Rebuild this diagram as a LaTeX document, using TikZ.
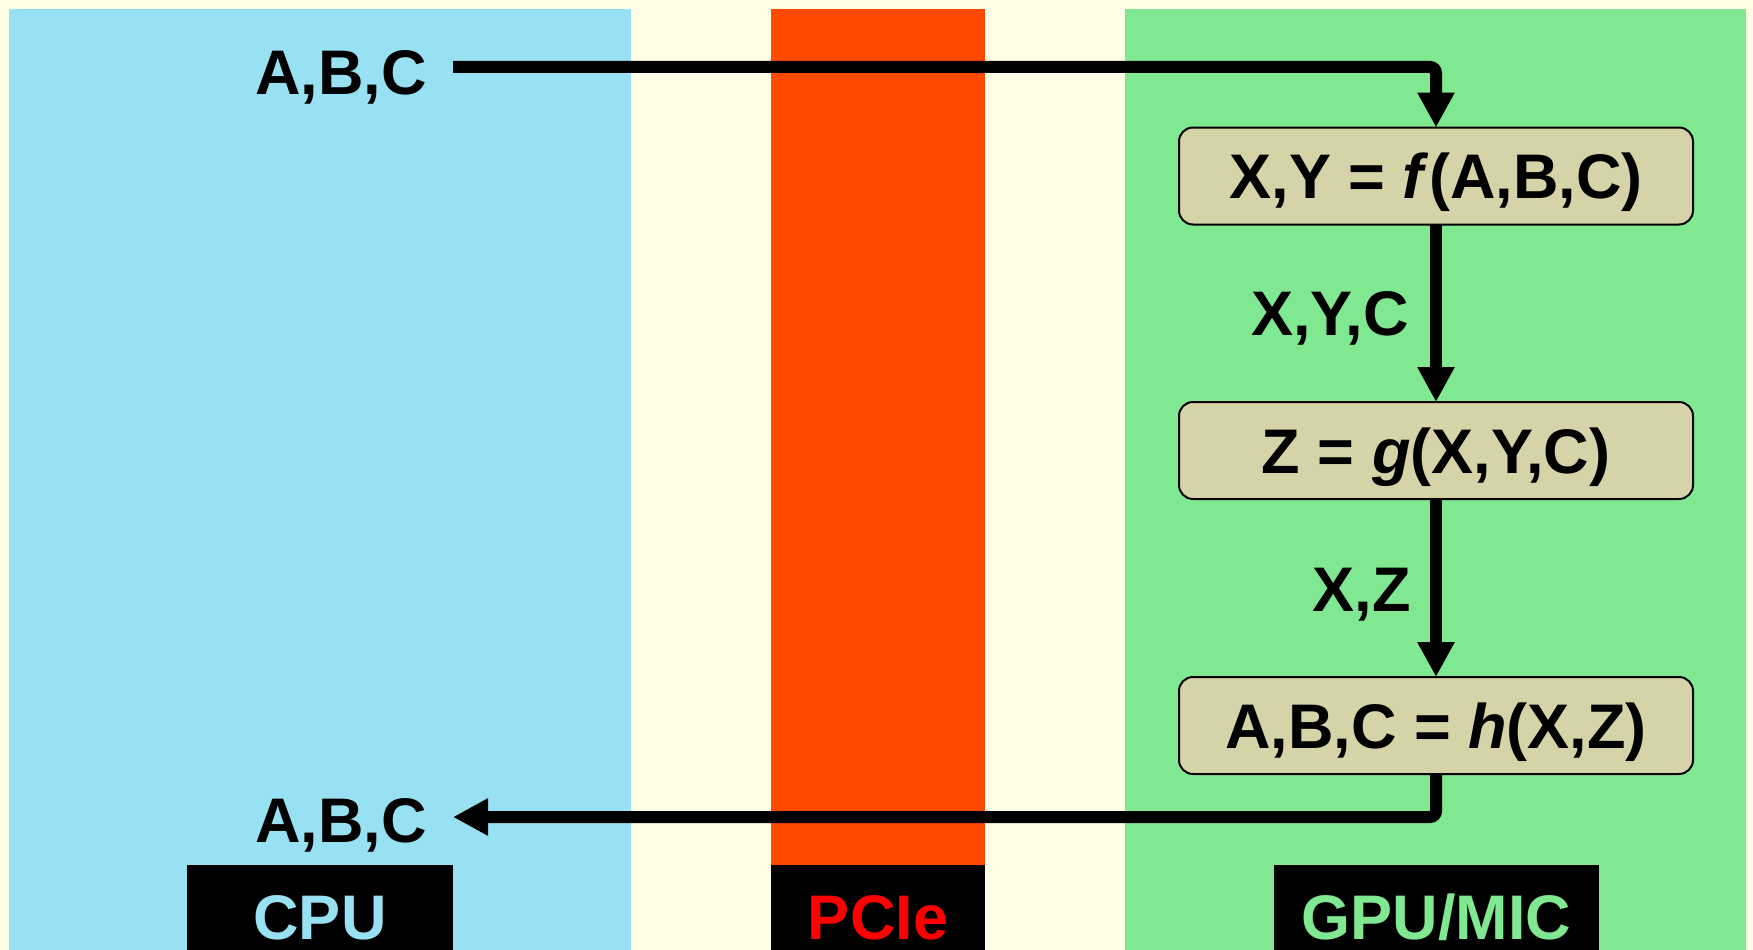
\documentclass[tikz,border=0pt]{standalone}
\usepackage{fontspec}
\setmainfont{Liberation Sans}
\usetikzlibrary{arrows.meta}
\definecolor{creamc}{HTML}{FFFFE5}
\definecolor{cpuc}{HTML}{98E1F2}
\definecolor{pciec}{HTML}{FF4A00}
\definecolor{gpuc}{HTML}{80E890}
\definecolor{tanc}{HTML}{D6D3A9}
\definecolor{redc}{HTML}{FF0000}
\tikzset{
  big/.style={font=\fontsize{63}{70}\selectfont\bfseries},
  funcbox/.style={big, draw=black, line width=2pt, fill=tanc, rounded corners=14pt,
    minimum width=514pt, minimum height=97pt, inner sep=0pt, outer sep=0pt,
    text height=45pt, text depth=0pt},
  lbl/.style={big, inner sep=0pt, anchor=base east},
  tagbox/.style={big, fill=black, inner sep=0pt, outer sep=0pt, minimum height=85pt,
    text height=63pt, text depth=0pt},
  conn/.style={draw=black, line width=12pt, rounded corners=6pt,
    -{Triangle[width=35pt,length=35pt]}},
}
\begin{document}
\begin{tikzpicture}[x=1pt,y=-1pt]
\useasboundingbox (0,0) rectangle (1753,950);
\fill[creamc] (0,0) rectangle (1753,950);
% columns
\fill[cpuc] (9,9) rectangle (631,950);
\fill[pciec] (771,9) rectangle (985,865);
\fill[gpuc] (1125,9) rectangle (1746,950);
% bottom tags
\node[tagbox, text=cpuc, minimum width=266pt] (cpu) at (320,907.5) {CPU};
\node[tagbox, text=redc, minimum width=214pt] (pcie) at (878,907.5) {PCIe};
\node[tagbox, text=gpuc, minimum width=325pt] (gpu) at (1436.5,907.5) {GPU/MIC};
% function boxes
\node[funcbox] (f) at (1436,176) {X,Y = \textit{f}(A,B,C)};
\node[funcbox] (g) at (1436,450.5) {Z = \textit{g}(X,Y,C)};
\node[funcbox] (h) at (1436,725.5) {A,B,C = \textit{h}(X,Z)};
% labels
\node[lbl] (in) at (427,94) {A,B,C};
\node[lbl] (out) at (427,842) {A,B,C};
\node[lbl] (l1) at (1409,335) {X,Y,C};
\node[lbl] (l2) at (1411,611) {X,Z};
% connectors
\coordinate (s1) at (453,67);
\coordinate (s2) at (453,817);
\draw[conn] (s1) -| (f.north);
\draw[conn] (f.south) -- (g.north);
\draw[conn] (g.south) -- (h.north);
\draw[conn] (h.south) |- (s2);
\end{tikzpicture}
\end{document}
